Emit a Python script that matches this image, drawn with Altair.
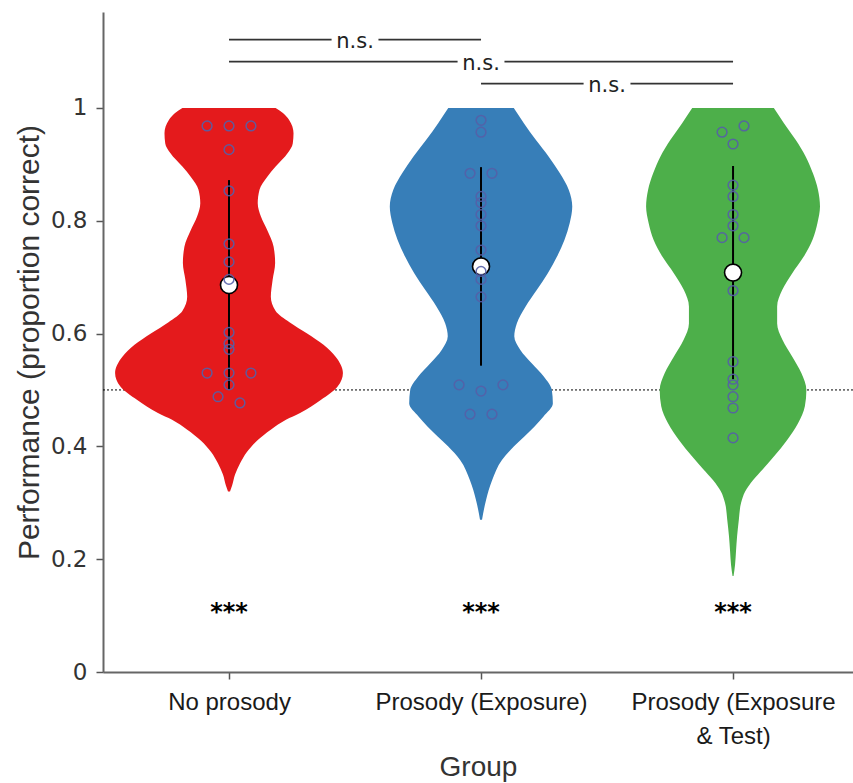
import altair as alt
import pandas as pd

# ---------------- data ----------------
groups = ["No prosody", "Prosody (Exposure)", "Prosody (Exposure & Test)"]
colors = ["#e41a1c", "#377eb8", "#4daf4a"]

# individual participant scores (proportion correct) and swarm slot
red_vals = [0.968, 0.968, 0.968, 0.926, 0.853, 0.759, 0.727, 0.696, 0.602, 0.582,
            0.572, 0.530, 0.530, 0.530, 0.509, 0.488, 0.477]
red_slot = [-2, 0, 2, 0, 0, 0, 0, 0, 0, 0, 0, -2, 0, 2, 0, -1, 1]
blue_vals = [0.978, 0.957, 0.884, 0.884, 0.843, 0.832, 0.811, 0.791, 0.748, 0.710,
             0.696, 0.665, 0.509, 0.509, 0.498, 0.457, 0.457]
blue_slot = [0, 0, -1, 1, 0, 0, 0, 0, 0, 0, 0, 0, -2, 2, 0, -1, 1]
green_vals = [0.968, 0.957, 0.936, 0.863, 0.843, 0.811, 0.791, 0.770, 0.770, 0.676,
              0.550, 0.519, 0.509, 0.488, 0.468, 0.415]
green_slot = [1, -1, 0, 0, 0, 0, 0, -1, 1, 0, 0, 0, 0, 0, 0, 0]

# violin outlines: level and density half-width (in category units)
red_levels = [1.000, 0.991, 0.979, 0.955, 0.937, 0.920, 0.896, 0.878, 0.855, 0.831,
              0.807, 0.784, 0.754, 0.725, 0.695, 0.665, 0.640, 0.620, 0.600, 0.580,
              0.559, 0.530, 0.506, 0.482, 0.459, 0.447, 0.430, 0.410, 0.390, 0.370,
              0.350, 0.330, 0.320]
red_hw = [0.185, 0.214, 0.238, 0.256, 0.253, 0.233, 0.185, 0.152, 0.121, 0.114,
          0.127, 0.151, 0.177, 0.183, 0.173, 0.166, 0.185, 0.240, 0.310, 0.375,
          0.423, 0.452, 0.431, 0.364, 0.282, 0.226, 0.167, 0.111, 0.071, 0.044,
          0.024, 0.012, 0.004]
blue_levels = [1.000, 0.973, 0.943, 0.914, 0.884, 0.855, 0.825, 0.796, 0.766, 0.736,
               0.707, 0.677, 0.648, 0.618, 0.595, 0.571, 0.547, 0.524, 0.500, 0.476,
               0.453, 0.417, 0.400, 0.376, 0.340, 0.305, 0.270]
blue_hw = [0.130, 0.170, 0.218, 0.268, 0.313, 0.348, 0.362, 0.352, 0.331, 0.301,
           0.265, 0.221, 0.177, 0.142, 0.132, 0.156, 0.202, 0.249, 0.281, 0.285,
           0.248, 0.171, 0.131, 0.083, 0.044, 0.020, 0.004]
green_levels = [1.000, 0.973, 0.943, 0.914, 0.884, 0.855, 0.825, 0.796, 0.766, 0.736,
                0.707, 0.677, 0.648, 0.618, 0.589, 0.559, 0.530, 0.500, 0.471, 0.441,
                0.411, 0.382, 0.360, 0.340, 0.320, 0.300, 0.270, 0.240, 0.216, 0.190,
                0.170]
green_hw = [0.162, 0.202, 0.249, 0.288, 0.317, 0.337, 0.345, 0.335, 0.315, 0.280,
            0.235, 0.195, 0.175, 0.175, 0.196, 0.235, 0.271, 0.291, 0.285, 0.258,
            0.214, 0.162, 0.119, 0.079, 0.048, 0.032, 0.023, 0.016, 0.012, 0.008,
            0.002]

# summary statistics
means = [0.686, 0.719, 0.708]
err_lo = [0.500, 0.543, 0.519]
err_hi = [0.872, 0.895, 0.897]

chance = 0.5

# pairwise comparisons (group index a, group index b, bracket level, label)
cmp_a = [0, 0, 1]
cmp_b = [1, 2, 2]
cmp_y = [1.121, 1.082, 1.043]
cmp_label = ["n.s.", "n.s.", "n.s."]

# test against chance
star_label = ["***", "***", "***"]
star_y = 0.113

# ---------------- tables ----------------
vals = [red_vals, blue_vals, green_vals]
slots = [red_slot, blue_slot, green_slot]
levels = [red_levels, blue_levels, green_levels]
hws = [red_hw, blue_hw, green_hw]

pts = pd.DataFrame([
    {"group": groups[i], "g": i, "score": v, "slot": s}
    for i in range(3) for v, s in zip(vals[i], slots[i])
])
viol = pd.DataFrame([
    {"group": groups[i], "g": i, "level": l, "hw": h}
    for i in range(3) for l, h in zip(levels[i], hws[i])
])
summ = pd.DataFrame({"group": groups, "g": [0, 1, 2], "mean": means,
                     "lo": err_lo, "hi": err_hi, "star": star_label,
                     "sy": [star_y] * 3})
cmp = pd.DataFrame({"a": cmp_a, "b": cmp_b, "y": cmp_y, "label": cmp_label})
chance_df = pd.DataFrame({"y": [chance]})

# ---------------- scales / axes ----------------
LABEL_FONT = "Liberation Sans"
xscale = alt.Scale(domain=[-0.5, 2.476], nice=False, zero=False)
yscale = alt.Scale(domain=[0, 1.17], nice=False, zero=True)
xaxis = alt.Axis(
    title="Group", values=[0, 1, 2],
    labelExpr="datum.value == 0 ? 'No prosody' : datum.value == 1 ? 'Prosody (Exposure)' : ['Prosody (Exposure', '& Test)']",
    labelFont=LABEL_FONT, labelFontSize=24, labelLineHeight=34, labelPadding=11,
    labelFlush=False, labelOverlap=False, labelLimit=400, labelColor="#1a1a1a",
    titleFont=LABEL_FONT, titleFontSize=28, titleFontWeight="normal",
    titleColor="#333333", titlePadding=5,
    grid=False, domainColor="#666666", domainWidth=2,
    tickColor="#555555", tickWidth=1.5, tickSize=7,
)
yaxis = alt.Axis(
    title="Performance (proportion correct)", values=[0, 0.2, 0.4, 0.6, 0.8, 1],
    format="~g", labelFont="DejaVu Sans", labelFontSize=23, labelPadding=9,
    labelColor="#333333",
    titleFont=LABEL_FONT, titleFontSize=30, titleFontWeight="normal",
    titleColor="#333333", titlePadding=6,
    grid=False, domainColor="#666666", domainWidth=2,
    tickColor="#555555", tickWidth=1.5, tickSize=7,
)

X = lambda f: alt.X(f, scale=xscale, axis=xaxis, stack=None)
Y = lambda f: alt.Y(f, scale=yscale, axis=yaxis)

chance_line = alt.Chart(chance_df).mark_rule(
    color="black", strokeDash=[2, 2], strokeWidth=1
).encode(y=Y("y:Q"))

violins = alt.Chart(viol).transform_calculate(
    left="datum.g - datum.hw", right="datum.g + datum.hw"
).mark_area(orient="horizontal", interpolate="monotone", opacity=1).encode(
    y=Y("level:Q"),
    x=X("left:Q"),
    x2="right:Q",
    color=alt.Color("group:N", scale=alt.Scale(domain=groups, range=colors), legend=None),
)

errbars = alt.Chart(summ).mark_rule(color="black", strokeWidth=2).encode(
    x=X("g:Q"), y=Y("lo:Q"), y2="hi:Q"
)

mean_pts = alt.Chart(summ).mark_point(
    shape="circle", filled=True, fill="white", stroke="black",
    strokeWidth=1.6, size=290, opacity=1
).encode(x=X("g:Q"), y=Y("mean:Q"))

points = alt.Chart(pts).transform_calculate(
    px="datum.g + datum.slot * 0.0435"
).mark_point(
    shape="circle", filled=False, size=95, strokeWidth=1.5,
    color="#5660a8", opacity=0.9
).encode(x=X("px:Q"), y=Y("score:Q"))

stars = alt.Chart(summ).mark_text(
    font="DejaVu Sans", fontWeight="bold", fontSize=24, baseline="middle",
    dy=5, color="black"
).encode(x=X("g:Q"), y=Y("sy:Q"), text="star:N")

gap = 0.093
cmp_base = alt.Chart(cmp).transform_calculate(
    mid="(datum.a + datum.b) / 2",
    l_end="(datum.a + datum.b) / 2 - " + str(gap),
    r_start="(datum.a + datum.b) / 2 + " + str(gap),
)
br_left = cmp_base.mark_rule(color="#333333", strokeWidth=1.8).encode(
    x=X("a:Q"), x2="l_end:Q", y=Y("y:Q"))
br_right = cmp_base.mark_rule(color="#333333", strokeWidth=1.8).encode(
    x=X("r_start:Q"), x2="b:Q", y=Y("y:Q"))
br_text = cmp_base.mark_text(
    font="DejaVu Sans", fontSize=21, baseline="alphabetic", dy=8, color="#222222"
).encode(x=X("mid:Q"), y=Y("y:Q"), text="label:N")

chart = alt.layer(
    chance_line, violins, errbars, mean_pts, points, stars, br_left, br_right, br_text
).properties(
    width=750, height=660,
    padding={"left": 103, "top": 12, "right": 0, "bottom": 111},
    autosize=alt.AutoSizeParams(type="none"),
    background="white",
).configure_view(stroke=None)

chart.save("out.html", embed_options={"renderer": "svg", "actions": False})
